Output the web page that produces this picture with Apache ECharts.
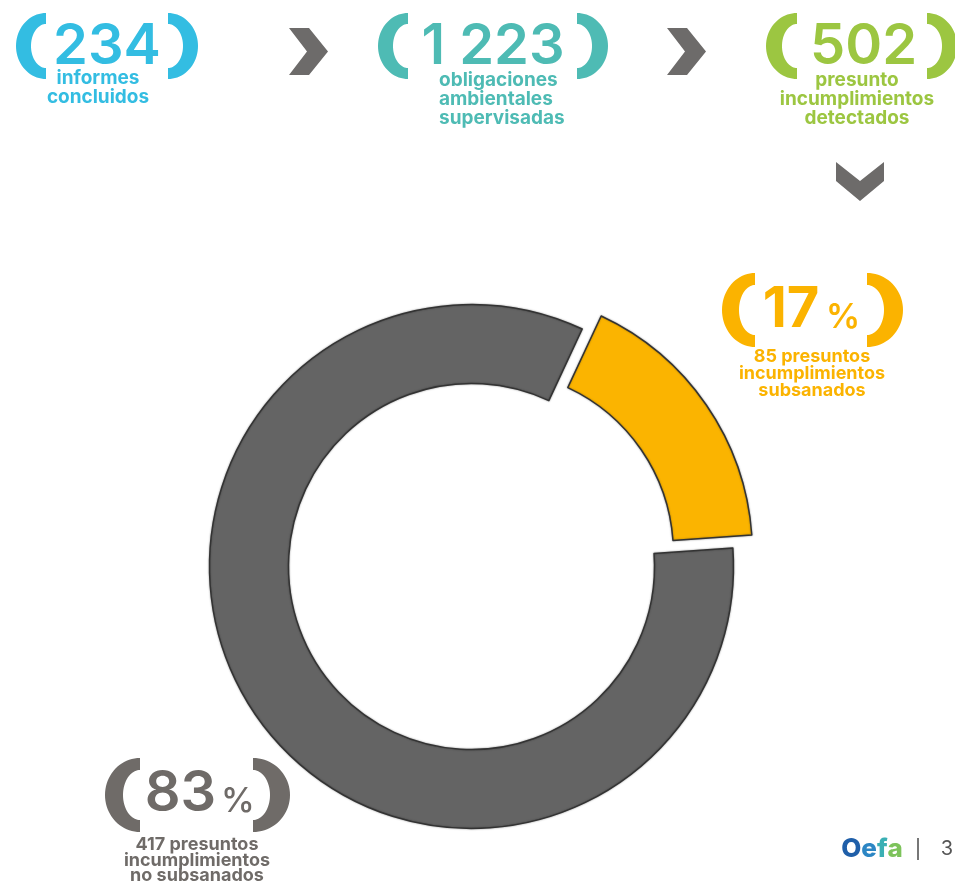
<!DOCTYPE html>
<html>
<head>
<meta charset="utf-8">
<script src="https://cdn.jsdelivr.net/npm/echarts@6/dist/echarts.min.js"></script>
<style>
html,body{margin:0;padding:0;background:#fff;}
#chart{width:955px;height:883px;}
</style>
</head>
<body>
<div id="chart"></div>
<script>
// ---- data ----
const categories = ['presuntos incumplimientos subsanados', 'presuntos incumplimientos no subsanados'];
const values = [85, 417];
const summaryNumbers = ['234', '1 223', '502'];
const summaryLabels = [
  ['informes', 'concluidos'],
  ['obligaciones', 'ambientales', 'supervisadas'],
  ['presunto', 'incumplimientos', 'detectados']
];
const sliceLabels = [
  ['85 presuntos', 'incumplimientos', 'subsanados'],
  ['417 presuntos', 'incumplimientos', 'no subsanados']
];
const footerPage = '3';

// ---- styles ----
const BLUE = '#33BDE2', TEAL = '#4EBBB4', GREEN = '#9CC641', ORANGE = '#FBB300', GREY = '#6F6B68', CHEV = '#6D6B6A';
const FONT = 'Inter, "DejaVu Sans", sans-serif';
const total = values.reduce((a, b) => a + b, 0);
const pct = values.map(v => Math.round(v / total * 100));

function bracket(cx, cy, rx, ry, rxi, ryi, side, color) {
  // side: -1 left "(", +1 right ")" ; crescent made of two half-ellipses
  const pts = [];
  const N = 40;
  for (let i = 0; i <= N; i++) {
    const t = -Math.PI / 2 + Math.PI * i / N;
    pts.push([cx + side * rx * Math.cos(t), cy + ry * Math.sin(t)]);
  }
  for (let i = N; i >= 0; i--) {
    const t = -Math.PI / 2 + Math.PI * i / N;
    pts.push([cx + side * rxi * Math.cos(t), cy + ryi * Math.sin(t)]);
  }
  return { type: 'polygon', shape: { points: pts }, style: { fill: color }, silent: true };
}
function txt(x, y, text, font, color, align) {
  return { type: 'text', x: x, y: y, silent: true,
    style: { text: text, font: font, fill: color, textAlign: align || 'center', textVerticalAlign: 'middle' } };
}
function lines(x, y0, dy, arr, font, color, align) {
  return arr.map((t, i) => txt(x, y0 + i * dy, t, font, color, align));
}

const NUMFONT = '600 56px ' + FONT;
const TOPLAB = '700 19px ' + FONT;
const SLICELAB = '700 18px ' + FONT;
const graphics = [];
// Group 1
graphics.push(bracket(46, 46, 30, 33, 15, 22, -1, BLUE), bracket(168, 46, 30, 33, 15, 22, 1, BLUE));
graphics.push(txt(107, 47, summaryNumbers[0], NUMFONT, BLUE));
graphics.push(...lines(98, 78, 19, summaryLabels[0], TOPLAB, BLUE));
// Chevron 1
graphics.push({ type: 'polygon', silent: true, shape: { points: [[289, 28], [309, 28], [328, 51.5], [309, 75], [289, 75], [307, 51.5]] }, style: { fill: CHEV } });
// Group 2
graphics.push(bracket(408, 46, 30, 33, 15, 22, -1, TEAL), bracket(577, 46, 31, 33, 15, 22, 1, TEAL));
graphics.push(txt(493, 47, summaryNumbers[1], NUMFONT, TEAL));
graphics.push(...lines(439, 80, 19, summaryLabels[1], TOPLAB, TEAL, 'left'));
// Chevron 2
graphics.push({ type: 'polygon', silent: true, shape: { points: [[667, 28], [687, 28], [706, 51.5], [687, 75], [667, 75], [685, 51.5]] }, style: { fill: CHEV } });
// Group 3
graphics.push(bracket(797, 46, 31, 33, 15, 22, -1, GREEN), bracket(927, 46, 30, 33, 15, 22, 1, GREEN));
graphics.push(txt(863.5, 47, summaryNumbers[2], NUMFONT, GREEN));
graphics.push(...lines(857, 80, 19, summaryLabels[2], TOPLAB, GREEN));
// Down chevron
graphics.push({ type: 'polygon', silent: true, shape: { points: [[836, 162], [860, 181], [884, 162], [884, 181], [860, 201], [836, 181]] }, style: { fill: CHEV } });

// 17% group
graphics.push(bracket(755, 310, 33, 37, 16, 25, -1, ORANGE), bracket(867, 310, 36, 37, 17, 25, 1, ORANGE));
graphics.push(txt(791, 310, String(pct[0]), '700 56px ' + FONT, ORANGE));
graphics.push(txt(843, 318, '%', '600 34px ' + FONT, ORANGE));
graphics.push(...lines(812, 357, 17, sliceLabels[0], SLICELAB, ORANGE));

// 83% group
graphics.push(bracket(140, 795, 35, 37, 17, 25, -1, GREY), bracket(253, 795, 37, 37, 17, 25, 1, GREY));
graphics.push(txt(180.5, 794, String(pct[1]), NUMFONT, GREY));
graphics.push(txt(238, 802, '%', '500 34px ' + FONT, GREY));
graphics.push(...lines(197, 845, 15.5, sliceLabels[1], SLICELAB, GREY));

// Footer
graphics.push({ type: 'text', x: 872, y: 849, silent: true,
  style: { text: '{a|O}{b|e}{c|f}{d|a}', textAlign: 'center', textVerticalAlign: 'middle',
    rich: {
      a: { font: '800 26px ' + FONT, fill: '#1F5FA9' },
      b: { font: '800 26px ' + FONT, fill: '#2C86C4' },
      c: { font: '800 26px ' + FONT, fill: '#3AAFB4' },
      d: { font: '800 26px ' + FONT, fill: '#7DC35B' }
    } } });
graphics.push({ type: 'line', silent: true, shape: { x1: 918, y1: 838, x2: 918, y2: 860 }, style: { stroke: '#777', lineWidth: 2 } });
graphics.push(txt(947, 849, footerPage, '400 20px ' + FONT, '#555'));

const chart = echarts.init(document.getElementById('chart'));
chart.setOption({
  animation: false,
  backgroundColor: '#ffffff',
  graphic: { elements: graphics },
  series: [{
    type: 'pie',
    center: [471.5, 566.5],
    radius: [183, 262],
    startAngle: 65,
    clockwise: true,
    selectedMode: 'single',
    selectedOffset: 23,
    label: { show: false },
    labelLine: { show: false },
    emphasis: { disabled: true },
    itemStyle: { borderColor: '#333333', borderWidth: 1.5, shadowColor: 'rgba(0,0,0,0.35)', shadowBlur: 2 },
    data: [
      { name: categories[0], value: values[0], selected: true, itemStyle: { color: '#FBB400' } },
      { name: categories[1], value: values[1], itemStyle: { color: '#646464' } }
    ]
  }]
});
</script>
</body>
</html>
